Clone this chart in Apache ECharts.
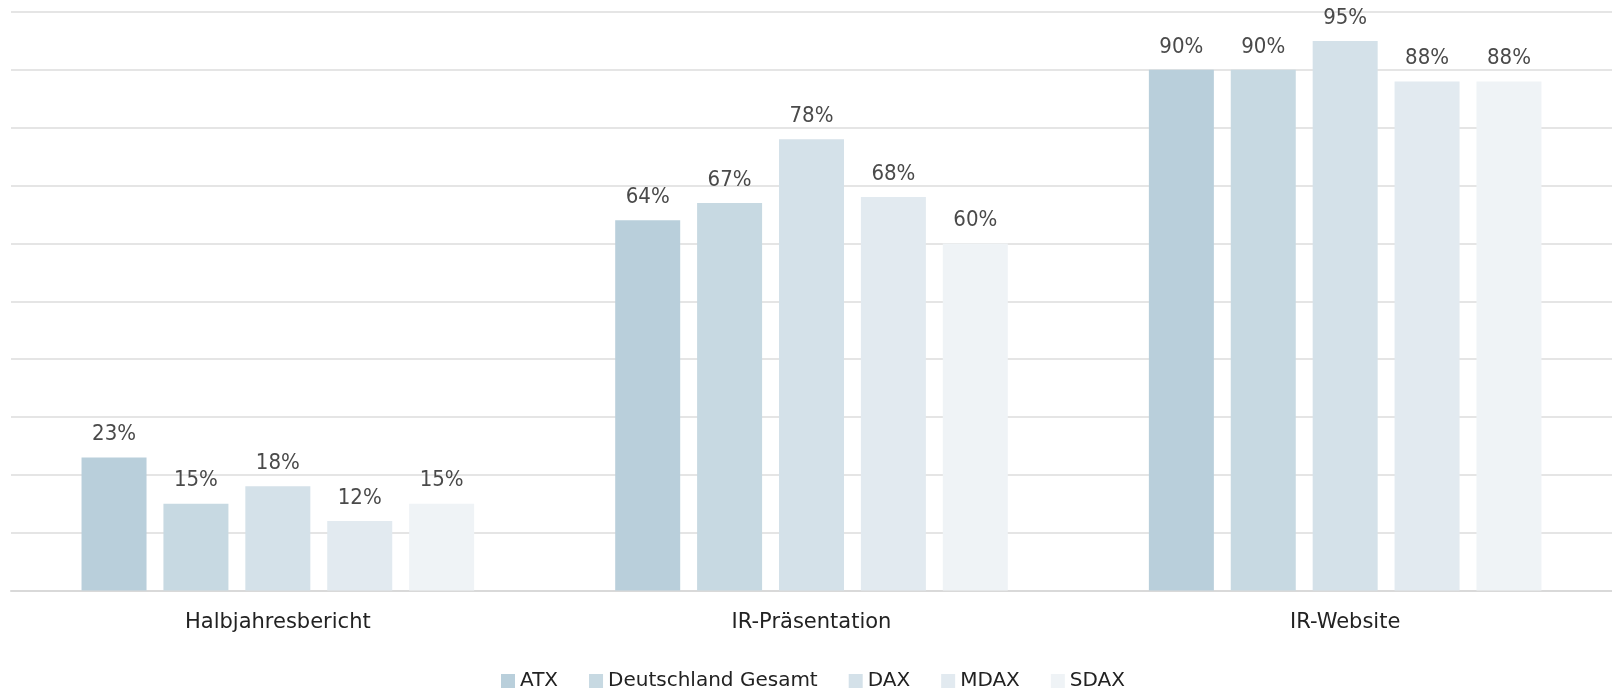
<!DOCTYPE html>
<html>
<head>
<meta charset="utf-8">
<script src="https://cdn.jsdelivr.net/npm/echarts@6/dist/echarts.min.js"></script>
<style>
  html, body { margin: 0; padding: 0; background: #fff; }
  #main { width: 1612px; height: 689px; }
</style>
</head>
<body>
<div id="main"></div>
<script>
// Kategorien und Werte (in %)
var categories = ['Halbjahresbericht', 'IR-Präsentation', 'IR-Website'];
var seriesNames = ['ATX', 'Deutschland Gesamt', 'DAX', 'MDAX', 'SDAX'];
var atx = [23, 64, 90];
var deutschland = [15, 67, 90];
var dax = [18, 78, 95];
var mdax = [12, 68, 88];
var sdax = [15, 60, 88];
var colors = ['#b9cfdb', '#c7d9e2', '#d4e1e9', '#e2eaf0', '#eff3f6'];

var allValues = [atx, deutschland, dax, mdax, sdax];
var font = 'DejaVu Sans';
var fontCond = '"DejaVu Sans Condensed", "DejaVu Sans"';

var dom = document.getElementById('main');
var myChart = echarts.init(dom);

var series = [];
for (var i = 0; i < seriesNames.length; i++) {
    series.push({
        name: seriesNames[i],
        type: 'bar',
        barWidth: 65,
        barGap: '26%',
        data: allValues[i],
        itemStyle: { color: colors[i] },
        label: {
            show: true,
            position: 'top',
            distance: 12,
            formatter: '{c}%',
            fontFamily: fontCond,
            fontSize: 22,
            color: '#4a4a4a'
        }
    });
}

var option = {
    animation: false,
    color: colors,
    grid: { left: 11, right: 0, top: 12, bottom: 98.5 },
    legend: {
        data: seriesNames,
        bottom: -7,
        left: 496,
        icon: 'rect',
        itemWidth: 14,
        itemHeight: 14,
        itemGap: 31,
        textStyle: { fontFamily: font, fontSize: 20, color: '#222' }
    },
    xAxis: {
        type: 'category',
        data: categories,
        axisTick: { show: false },
        axisLine: { lineStyle: { color: '#d9d9d9', width: 2 } },
        axisLabel: { margin: 22, fontFamily: font, fontSize: 21, color: '#222' }
    },
    yAxis: {
        type: 'value',
        min: 0,
        max: 100,
        interval: 10,
        axisLabel: { show: false },
        axisLine: { show: false },
        axisTick: { show: false },
        splitLine: { lineStyle: { color: '#dcdcdc', width: 1.5 } }
    },
    series: series
};

myChart.setOption(option, true);
</script>
</body>
</html>
